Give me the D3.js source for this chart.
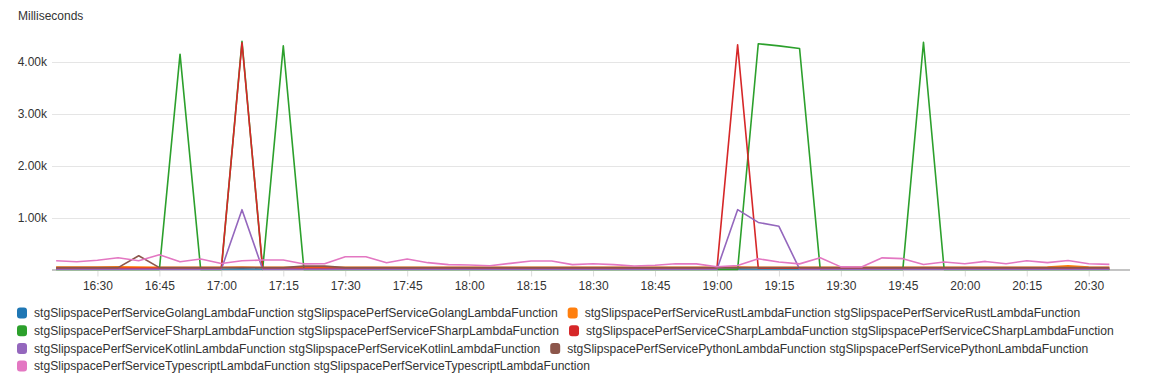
<!DOCTYPE html>
<meta charset="utf-8">
<html>
<head>
<script src="https://d3js.org/d3.v7.min.js"></script>
<style>
body { margin: 0; background: #fff; }
text { font-family: "Liberation Sans", Arial, Helvetica, sans-serif; font-size: 12px; fill: #333; }
.legend text { font-size: 12.1px; }
.grid line { stroke: #e5e5e5; stroke-width: 1; }
.series { fill: none; stroke-width: 1.6; stroke-linejoin: round; }
</style>
</head>
<body>
<script>

// ---- data (5 minute points, ms) ----
var times = ["16:20","16:25","16:30","16:35","16:40","16:45","16:50","16:55",
  "17:00","17:05","17:10","17:15","17:20","17:25","17:30","17:35","17:40","17:45","17:50","17:55",
  "18:00","18:05","18:10","18:15","18:20","18:25","18:30","18:35","18:40","18:45","18:50","18:55",
  "19:00","19:05","19:10","19:15","19:20","19:25","19:30","19:35","19:40","19:45","19:50","19:55",
  "20:00","20:05","20:10","20:15","20:20","20:25","20:30","20:35"];

var golang = [20,20,22,20,20,18,20,20, 20,22,20,20,20,20,20,20,20,20,20,20,
  20,20,20,22,20,20,20,20,25,22,20,20, 20,22,20,20,20,20,20,20,20,20,20,20,
  20,20,20,22,20,20,20,20];
var rust = [55,55,55,60,55,50,50,50, 50,55,50,50,50,50,50,50,50,50,50,50,
  50,50,50,50,50,50,50,50,50,50,50,50, 50,55,50,50,50,50,50,50,50,50,50,50,
  50,50,50,50,55,80,55,50];
var fsharp = [10,10,10,10,10,10,4150,10, 10,4400,10,4310,10,10,10,10,10,10,10,10,
  10,10,10,10,10,10,10,10,10,10,10,10, 10,10,4350,4310,4260,10,10,10,10,10,4380,10,
  10,10,10,10,10,10,10,10];
var csharp = [35,35,35,35,35,35,35,35, 35,4370,35,35,35,35,35,35,35,35,35,35,
  35,35,35,35,35,35,35,35,35,35,35,35, 35,4330,35,35,35,35,35,35,35,35,35,35,
  35,35,35,35,35,35,30,30];
var kotlin = [15,15,15,15,15,15,15,15, 15,1160,15,15,15,15,15,15,15,15,15,15,
  15,15,15,15,15,15,15,15,15,15,15,15, 15,1160,915,840,15,15,15,15,15,15,15,15,
  15,15,15,15,15,15,15,15];
var python = [45,45,45,45,275,45,45,45, 45,45,45,45,75,75,45,45,45,45,45,45,
  45,45,45,45,45,45,45,45,45,45,45,45, 45,45,45,45,45,45,45,45,45,45,45,45,
  45,45,45,45,45,45,45,45];
var typescript = [179,160,187,237,179,292,160,212, 125,177,192,192,117,120,256,256,141,212,141,103,
  96,83,128,173,173,103,121,103,77,90,121,118, 62,87,215,155,118,234,60,58,234,218,106,154,
  121,165,120,179,141,182,120,109];

var seriesNames = ["Golang","Rust","FSharp","CSharp","Kotlin","Python","Typescript"];
var seriesValues = [golang, rust, fsharp, csharp, kotlin, python, typescript];
var seriesColors = ["#1f77b4","#ff7f0e","#2ca02c","#d62728","#9467bd","#8c564b","#e377c2"];

var yTicks = [1000, 2000, 3000, 4000];

// ---- layout ----
var width = 1155, height = 382;
var plotLeft = 52, plotRight = 1130, plotBottom = 270;

var parseTime = d3.timeParse("%H:%M");
var svg = d3.select("body").append("svg")
  .attr("width", width)
  .attr("height", height);

var x = d3.scaleTime()
  .domain([parseTime("16:19"), parseTime("20:40")])
  .range([plotLeft, plotRight]);

var y = d3.scaleLinear()
  .domain([0, 4000])
  .range([plotBottom, 62]);

// y label
svg.append("text")
  .attr("x", 18)
  .attr("y", 20)
  .text("Milliseconds");

// horizontal grid
var grid = svg.append("g").attr("class", "grid");
grid.selectAll("line")
  .data(yTicks)
  .enter().append("line")
  .attr("x1", plotLeft)
  .attr("x2", plotRight)
  .attr("y1", function(d) { return y(d) + 0.5; })
  .attr("y2", function(d) { return y(d) + 0.5; });

svg.selectAll(".ylab")
  .data(yTicks)
  .enter().append("text")
  .attr("class", "ylab")
  .attr("x", 47)
  .attr("y", function(d) { return y(d); })
  .attr("dy", "0.35em")
  .attr("text-anchor", "end")
  .text(function(d) { return d3.format(".2f")(d / 1000) + "k"; });

// x axis : ticks every 15 minutes
var xAxis = d3.axisBottom(x)
  .ticks(d3.timeMinute.every(15))
  .tickFormat(d3.timeFormat("%H:%M"))
  .tickSize(6)
  .tickPadding(5);

var xg = svg.append("g")
  .attr("transform", "translate(0," + (plotBottom + 0.5) + ")")
  .call(xAxis);
xg.select(".domain").remove();
xg.selectAll(".tick line").attr("stroke", "#dcdcdc");
xg.selectAll(".tick text")
  .attr("fill", "#333")
  .style("font-size", "12px")
  .style("font-family", "\"Liberation Sans\", Arial, sans-serif");

// base line of the plot
svg.append("line")
  .attr("x1", plotLeft)
  .attr("x2", plotRight)
  .attr("y1", plotBottom)
  .attr("y2", plotBottom)
  .attr("stroke", "#c4c4c4")
  .attr("stroke-width", 2);

// series lines, drawn in legend order so typescript ends on top
var line = d3.line()
  .x(function(d, i) { return x(parseTime(times[i])); })
  .y(function(d) { return y(d); });

svg.selectAll(".series")
  .data(seriesValues)
  .enter().append("path")
  .attr("class", "series")
  .attr("stroke", function(d, i) { return seriesColors[i]; })
  .attr("d", line);

// legend : items flow left to right and wrap
var legend = svg.append("g").attr("class", "legend");
var lx = 17, ly = 313, rowH = 17.7, maxX = 1140;

seriesNames.forEach(function(name, i) {
  var fn = "stgSlipspacePerfService" + name + "LambdaFunction";
  var item = legend.append("g");
  item.append("rect")
    .attr("width", 10)
    .attr("height", 11)
    .attr("rx", 3)
    .attr("y", -5.5)
    .attr("fill", seriesColors[i]);
  var t = item.append("text")
    .attr("x", 17)
    .attr("dy", "0.35em")
    .text(fn + " " + fn);
  var w = 17 + t.node().getComputedTextLength();
  if (lx + w > maxX) { lx = 17; ly += rowH; }
  item.attr("transform", "translate(" + lx + "," + ly + ")");
  lx += w + 10;
});

</script>
</body>
</html>
